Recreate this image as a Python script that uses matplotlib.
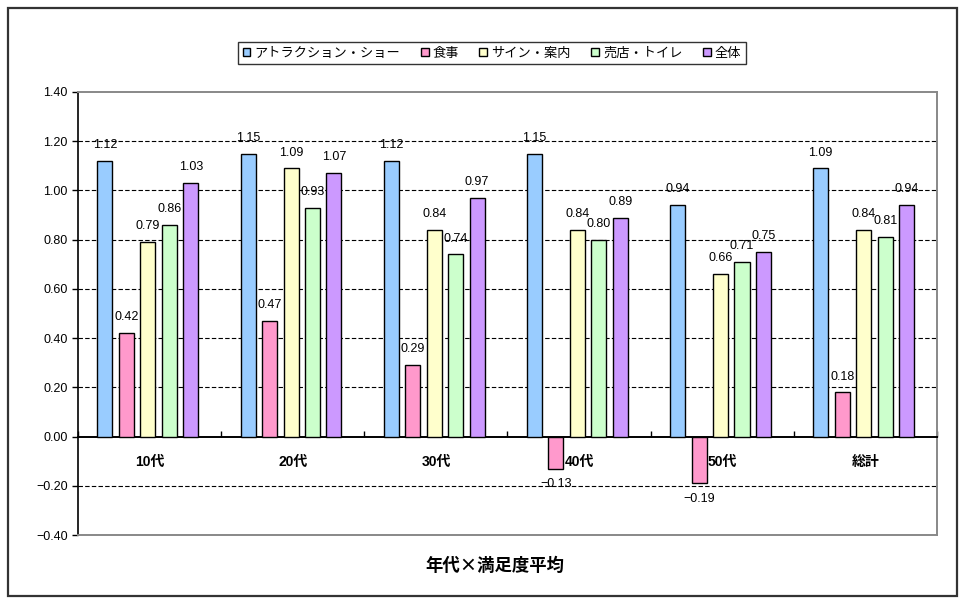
import numpy as np
import matplotlib
matplotlib.use("Agg")
import matplotlib.pyplot as plt
from matplotlib.patches import Rectangle

plt.rcParams['font.family'] = ['Liberation Sans', 'Noto Sans CJK JP', 'DejaVu Sans']

# data
categories = ['10代', '20代', '30代', '40代', '50代', '総計']
series_names = ['アトラクション・ショー', '食事', 'サイン・案内', '売店・トイレ', '全体']
attraction = [1.12, 1.15, 1.12, 1.15, 0.94, 1.09]
food = [0.42, 0.47, 0.29, -0.13, -0.19, 0.18]
sign = [0.79, 1.09, 0.84, 0.84, 0.66, 0.84]
shop = [0.86, 0.93, 0.74, 0.80, 0.71, 0.81]
total = [1.03, 1.07, 0.97, 0.89, 0.75, 0.94]
yticks = [-0.40, -0.20, 0.00, 0.20, 0.40, 0.60, 0.80, 1.00, 1.20, 1.40]

colors = ['#99CCFF', '#FF99CC', '#FFFFCC', '#CCFFCC', '#CC99FF']
series = [attraction, food, sign, shop, total]

W, H = 967, 603
fig = plt.figure(figsize=(W / 100, H / 100), dpi=100)
ax = fig.add_axes([78 / W, 1 - 535 / H, (937 - 78) / W, (535 - 92) / H])

# outer chart border
fig.patches.append(Rectangle((8 / W, 1 - 596 / H), (957 - 8) / W, (596 - 8) / H,
                             transform=fig.transFigure, fill=False,
                             edgecolor='#333333', linewidth=1.6))

x = np.arange(len(categories))
step, width = 0.15, 0.105
handles = []
for k, (vals, col, name) in enumerate(zip(series, colors, series_names)):
    pos = x + (k - 2) * step - 0.012
    b = ax.bar(pos, vals, width, color=col, edgecolor='black', linewidth=1.0,
               label=name, zorder=3)
    handles.append(b)
    for p, v in zip(pos, vals):
        txt = f"{v:.2f}" if v >= 0 else "\u2212" + f"{abs(v):.2f}"
        ax.annotate(txt, (p, v), xytext=(0, 7 if v >= 0 else -7),
                    textcoords='offset points', ha='center',
                    va='bottom' if v >= 0 else 'top', fontsize=9, zorder=4)

ax.set_xlim(-0.5, len(categories) - 0.5)
ax.set_ylim(-0.40, 1.40)
ax.set_yticks(yticks)
ax.set_yticklabels([f"{t:.2f}".replace('-', '\u2212') for t in yticks], fontsize=9)

for t in yticks[1:-1]:
    if t != 0:
        ax.axhline(t, color='black', linestyle=(0, (4, 2)), linewidth=0.8, zorder=1)

# axes / spines
ax.spines['bottom'].set_position(('data', 0))
ax.spines['bottom'].set_linewidth(1.4)
ax.spines['left'].set_linewidth(1.2)
for s in ['top', 'right']:
    ax.spines[s].set_color('#888888')
    ax.spines[s].set_linewidth(1.4)
ax.axhline(-0.40, color='#888888', linewidth=1.4, zorder=5, clip_on=False)

ax.set_xticks(x)
ax.set_xticklabels(categories, fontsize=10, fontweight='bold')
ax.set_xticks(np.arange(len(categories) + 1) - 0.5, minor=True)
ax.tick_params(axis='x', which='major', length=0, pad=13)
ax.tick_params(axis='x', which='minor', length=4, direction='in', width=1)
ax.tick_params(axis='y', length=4, direction='out', width=1)

leg = fig.legend(handles=handles, loc='center', ncol=5,
                 bbox_to_anchor=(492 / W, 1 - 53 / H),
                 prop={'family': ['Noto Sans CJK JP'], 'size': 9.5},
                 frameon=True, fancybox=False, edgecolor='black',
                 handlelength=0.6, handleheight=0.6, handletextpad=0.3,
                 columnspacing=1.55, borderpad=0.35)
leg.get_frame().set_linewidth(1.0)

fig.text(495 / W, 1 - 566 / H, '年代×満足度平均', ha='center', va='center',
         fontsize=12.5, fontweight='bold', family=['Noto Sans CJK JP'])

fig.savefig('out.png', dpi=100)
